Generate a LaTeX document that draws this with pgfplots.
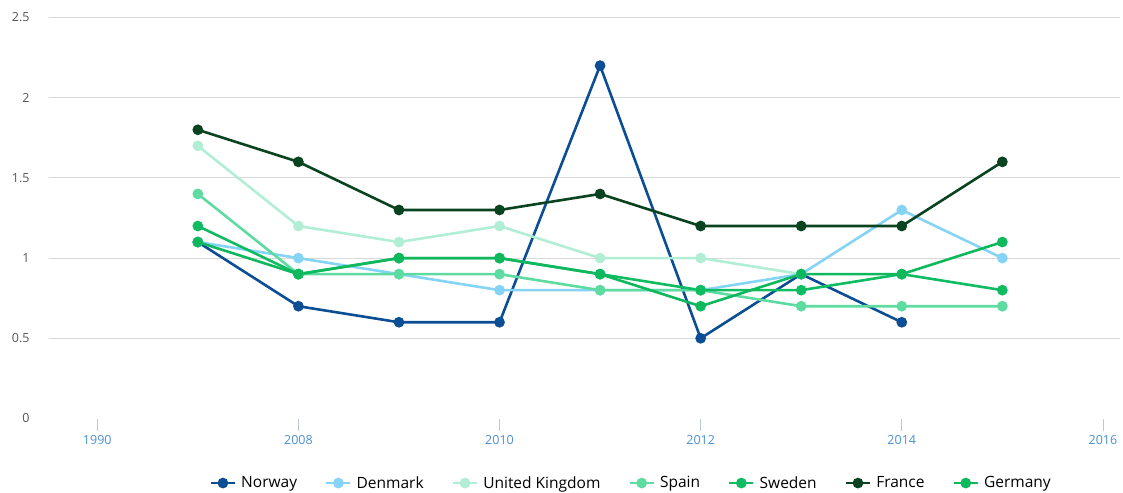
\documentclass[border=0pt]{standalone}
\usepackage{pgfplots}
\pgfplotsset{compat=1.18}
\usepackage{fontspec}
\setmainfont{Open Sans}
\definecolor{cNor}{HTML}{0C4E94}
\definecolor{cDen}{HTML}{86D4F5}
\definecolor{cUK}{HTML}{B2EDD5}
\definecolor{cSpa}{HTML}{5DDBA0}
\definecolor{cSwe}{HTML}{10BC62}
\definecolor{cFra}{HTML}{0A4320}
\definecolor{cGer}{HTML}{0FB85D}
\definecolor{xlab}{HTML}{4A8FD6}
\definecolor{ylab}{HTML}{555555}
\definecolor{gridc}{HTML}{D9D9D9}
\begin{document}
\begin{tikzpicture}[x=1pt,y=1pt]
\useasboundingbox (-49,-73.5) rectangle (1074,418.5);
\begin{axis}[
  at={(0,0)}, anchor=south west,
  scale only axis, width=1071pt, height=401pt,
  xmin=2005.52, xmax=2016.17, ymin=0, ymax=2.5,
  axis line style={draw=none},
  xtick={2006,2008,2010,2012,2014,2016},
  xticklabels={1990,2008,2010,2012,2014,2016},
  xtick pos=bottom, tick align=outside,
  x tick style={draw=gridc!80!xlab, line width=0.8pt},
  major tick length=12pt,
  x tick label style={font=\fontsize{12.5}{14}\selectfont, text=xlab, yshift=-1pt},
  ytick={0.5,1,1.5,2,2.5},
  yticklabels={0.5,1,1.5,2,2.5},
  extra y ticks={0}, extra y tick labels={0},
  extra y tick style={grid=none},
  y tick style={draw=none},
  y tick label style={font=\fontsize{12.5}{14}\selectfont, text=ylab, xshift=-4pt},
  ymajorgrids, major grid style={gridc, line width=1pt},
  /pgf/number format/assume math mode=true,
  every axis plot/.append style={line width=2.6pt, mark=*, mark size=4pt, mark options={solid}},
  legend style={draw=none, at={(0.545,-0.161)}, anchor=center,
    font=\fontsize{15.5}{17}\selectfont, legend columns=-1,
    /tikz/every even column/.append style={column sep=23pt},
    /tikz/every odd column/.append style={column sep=0pt},
    nodes={inner xsep=5pt}},
  legend image code/.code={
    \draw[#1, mark=none] (0pt,0pt) -- (24pt,0pt);
    \fill[#1] (12pt,0pt) circle (4pt);
  },
]
\addplot[cNor] coordinates {(2007,1.1)(2008,0.7)(2009,0.6)(2010,0.6)(2011,2.2)(2012,0.5)(2013,0.9)(2014,0.6)};
\addlegendentry{Norway}
\addplot[cDen] coordinates {(2007,1.1)(2008,1.0)(2009,0.9)(2010,0.8)(2011,0.8)(2012,0.8)(2013,0.9)(2014,1.3)(2015,1.0)};
\addlegendentry{Denmark}
\addplot[cUK] coordinates {(2007,1.7)(2008,1.2)(2009,1.1)(2010,1.2)(2011,1.0)(2012,1.0)(2013,0.9)};
\addlegendentry{United Kingdom}
\addplot[cSpa] coordinates {(2007,1.4)(2008,0.9)(2009,0.9)(2010,0.9)(2011,0.8)(2012,0.8)(2013,0.7)(2014,0.7)(2015,0.7)};
\addlegendentry{Spain}
\addplot[cSwe] coordinates {(2007,1.2)(2008,0.9)(2009,1.0)(2010,1.0)(2011,0.9)(2012,0.8)(2013,0.8)(2014,0.9)(2015,0.8)};
\addlegendentry{Sweden}
\addplot[cFra] coordinates {(2007,1.8)(2008,1.6)(2009,1.3)(2010,1.3)(2011,1.4)(2012,1.2)(2013,1.2)(2014,1.2)(2015,1.6)};
\addlegendentry{France}
\addplot[cGer] coordinates {(2007,1.1)(2008,0.9)(2009,1.0)(2010,1.0)(2011,0.9)(2012,0.7)(2013,0.9)(2014,0.9)(2015,1.1)};
\addlegendentry{Germany}
\end{axis}
\end{tikzpicture}
\end{document}
